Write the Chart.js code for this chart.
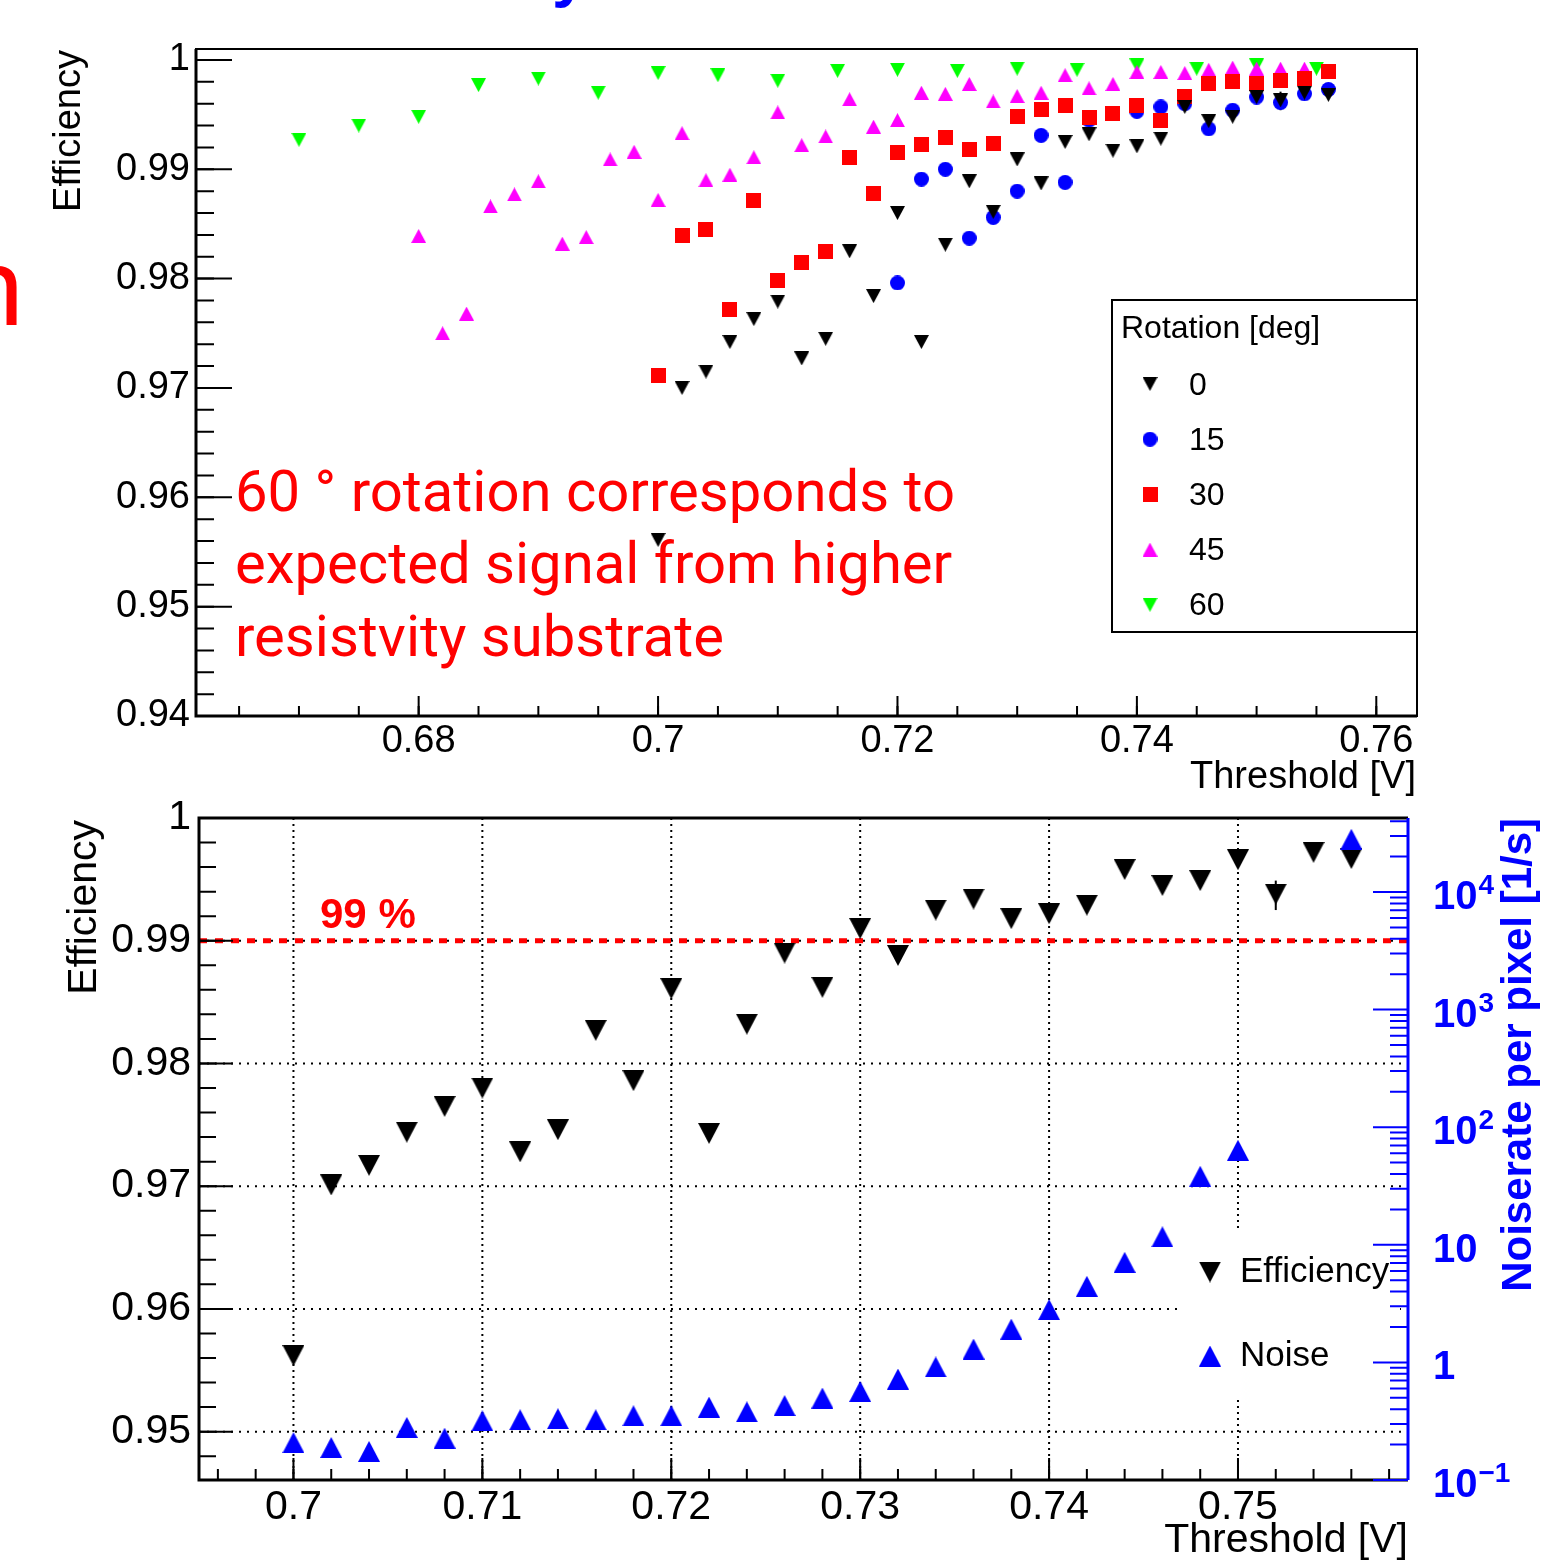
<!DOCTYPE html>
<html>
<head>
<meta charset="utf-8">
<title>Efficiency vs threshold</title>
<script src="https://cdn.jsdelivr.net/npm/chart.js@4.4.0/dist/chart.umd.min.js"></script>
<style>
  html, body { margin: 0; padding: 0; background: #fff; }
  body { width: 1542px; height: 1567px; position: relative; overflow: hidden; }
  canvas { position: absolute; left: 0; top: 0; }
</style>
</head>
<body>
<canvas id="topChart" width="1542" height="1567"></canvas>
<canvas id="bottomChart" width="1542" height="1567"></canvas>
<script>
// ---- data ----
// upper plot: efficiency vs threshold for each rotation angle
const thr0 = [0.700, 0.702, 0.704, 0.706, 0.708, 0.710, 0.712, 0.714, 0.716, 0.718, 0.720, 0.722, 0.724, 0.726, 0.728,
              0.730, 0.732, 0.734, 0.736, 0.738, 0.740, 0.742, 0.744, 0.746, 0.748, 0.750, 0.752, 0.754, 0.756];
const eff0 = [0.9561, 0.9700, 0.9715, 0.9742, 0.9763, 0.9779, 0.9727, 0.9745, 0.9825, 0.9784, 0.9860, 0.9742, 0.9831, 0.9889, 0.9861,
              0.9909, 0.9887, 0.9925, 0.9932, 0.9917, 0.9921, 0.9928, 0.9957, 0.9944, 0.9948, 0.9966, 0.9963, 0.9970, 0.9968];

const thr15 = [0.720, 0.722, 0.724, 0.726, 0.728, 0.730, 0.732, 0.734, 0.736, 0.738, 0.740, 0.742, 0.744, 0.746, 0.748,
               0.750, 0.752, 0.754, 0.756];
const eff15 = [0.9796, 0.9891, 0.9900, 0.9837, 0.9856, 0.9880, 0.9931, 0.9888, 0.9945, 0.9951, 0.9953, 0.9957, 0.9960, 0.9937, 0.9954,
               0.9966, 0.9961, 0.9969, 0.9973];

const thr30 = [0.700, 0.702, 0.704, 0.706, 0.708, 0.710, 0.712, 0.714, 0.716, 0.718, 0.720, 0.722, 0.724, 0.726, 0.728,
               0.730, 0.732, 0.734, 0.736, 0.738, 0.740, 0.742, 0.744, 0.746, 0.748, 0.750, 0.752, 0.754, 0.756];
const eff30 = [0.9711, 0.9839, 0.9845, 0.9772, 0.9871, 0.9798, 0.9815, 0.9825, 0.9911, 0.9878, 0.9915, 0.9923, 0.9929, 0.9918, 0.9924,
               0.9948, 0.9955, 0.9958, 0.9947, 0.9951, 0.9958, 0.9945, 0.9967, 0.9978, 0.9980, 0.9978, 0.9981, 0.9983, 0.9989];

const thr45 = [0.680, 0.682, 0.684, 0.686, 0.688, 0.690, 0.692, 0.694, 0.696, 0.698, 0.700, 0.702, 0.704, 0.706, 0.708,
               0.710, 0.712, 0.714, 0.716, 0.718, 0.720, 0.722, 0.724, 0.726, 0.728, 0.730, 0.732, 0.734, 0.736, 0.738,
               0.740, 0.742, 0.744, 0.746, 0.748, 0.750, 0.752, 0.754];
const eff45 = [0.9839, 0.9750, 0.9768, 0.9866, 0.9877, 0.9889, 0.9832, 0.9838, 0.9909, 0.9916, 0.9872, 0.9933, 0.9890, 0.9895, 0.9911,
               0.9952, 0.9922, 0.9930, 0.9964, 0.9939, 0.9945, 0.9970, 0.9969, 0.9978, 0.9962, 0.9967, 0.9970, 0.9986, 0.9974, 0.9978,
               0.9989, 0.9989, 0.9988, 0.9991, 0.9993, 0.9992, 0.9992, 0.9992];

const thr60 = [0.670, 0.675, 0.680, 0.685, 0.690, 0.695, 0.700, 0.705, 0.710, 0.715, 0.720, 0.725, 0.730, 0.735, 0.740,
               0.745, 0.750, 0.755];
const eff60 = [0.9927, 0.9940, 0.9948, 0.9977, 0.9983, 0.9970, 0.9988, 0.9986, 0.9981, 0.9990, 0.9991, 0.9990, 0.9992, 0.9991, 0.9995,
               0.9992, 0.9995, 0.9992];

// the one visible error bar (0 deg, 0.752 V) in each plot
const errThr = 0.752;
const errTop = [0.9954, 0.9971];
const errLow = [0.9925, 0.9949];

// lower plot: efficiency (0 deg) and noise rate
const thrEff = [0.700, 0.702, 0.704, 0.706, 0.708, 0.710, 0.712, 0.714, 0.716, 0.718, 0.720, 0.722, 0.724, 0.726, 0.728,
                0.730, 0.732, 0.734, 0.736, 0.738, 0.740, 0.742, 0.744, 0.746, 0.748, 0.750, 0.752, 0.754, 0.756];
const effLow = [0.9562, 0.9701, 0.9717, 0.9744, 0.9765, 0.9780, 0.9728, 0.9746, 0.9827, 0.9786, 0.9861, 0.9743, 0.9832, 0.9890, 0.9862,
                0.9910, 0.9888, 0.9925, 0.9934, 0.9918, 0.9922, 0.9929, 0.9958, 0.9945, 0.9949, 0.9966, 0.9938, 0.9972, 0.9967];

const thrNoise = [0.700, 0.702, 0.704, 0.706, 0.708, 0.710, 0.712, 0.714, 0.716, 0.718, 0.720, 0.722, 0.724, 0.726, 0.728,
                  0.730, 0.732, 0.734, 0.736, 0.738, 0.740, 0.742, 0.744, 0.746, 0.748, 0.750, 0.756];
const noise = [0.208, 0.189, 0.175, 0.280, 0.227, 0.319, 0.325, 0.332, 0.325, 0.352, 0.352, 0.417, 0.380, 0.430, 0.498,
               0.567, 0.722, 0.914, 1.30, 1.92, 2.81, 4.44, 7.10, 11.7, 38.3, 63.7, 28100];

const effTarget = 0.99;

// axis ticks
const topXTicks = [0.68, 0.70, 0.72, 0.74, 0.76];
const topYTicks = [0.94, 0.95, 0.96, 0.97, 0.98, 0.99, 1.00];
const botXTicks = [0.70, 0.71, 0.72, 0.73, 0.74, 0.75];
const botYTicks = [0.95, 0.96, 0.97, 0.98, 0.99, 1.00];
const noiseTicks = [0.1, 1, 10, 100, 1000, 10000];
const noiseTickBase = ['10', '1', '10', '10', '10', '10'];
const noiseTickExp = ['\u22121', '', '', '2', '3', '4'];

const noteLines = ['60 \u00b0 rotation corresponds to', 'expected signal from higher', 'resistvity substrate'];

// ---- helpers ----
const sans = '"Liberation Sans", Arial, Helvetica, sans-serif';
const fmt = v => String(Number(v.toFixed(4)));
const pts = (xs, ys) => xs.map((x, i) => ({ x: x, y: ys[i] }));

function steps(a, b, d) {
  const out = [];
  for (let i = Math.round(a / d); i <= Math.round(b / d); i++) out.push(+(i * d).toFixed(4));
  return out;
}

// ROOT-like markers, centred on their bounding box
function marker(shape, color, w, h) {
  const c = document.createElement('canvas');
  c.width = w; c.height = h;
  const g = c.getContext('2d');
  g.fillStyle = color;
  g.beginPath();
  if (shape === 'down') { g.moveTo(0, 0); g.lineTo(w, 0); g.lineTo(w / 2, h); }
  else if (shape === 'up') { g.moveTo(0, h); g.lineTo(w, h); g.lineTo(w / 2, 0); }
  else if (shape === 'square') { g.rect(0, 0, w, h); }
  else { g.arc(w / 2, h / 2, w / 2, 0, Math.PI * 2); }
  g.closePath();
  g.fill();
  return c;
}

function tickSet(ctx, scale, vals, horiz, base, len) {
  ctx.beginPath();
  vals.forEach(v => {
    const p = scale.getPixelForValue(v);
    if (horiz) { ctx.moveTo(p, base); ctx.lineTo(p, base - len); }
    else { ctx.moveTo(base, p); ctx.lineTo(base + len, p); }
  });
  ctx.stroke();
}

function vText(ctx, txt, x, y, font, color) {
  ctx.save();
  ctx.translate(x, y);
  ctx.rotate(-Math.PI / 2);
  ctx.font = font;
  ctx.fillStyle = color;
  ctx.textAlign = 'right';
  ctx.textBaseline = 'alphabetic';
  ctx.fillText(txt, 0, 0);
  ctx.restore();
}

function fixedTicks(vals) {
  return s => { s.ticks = vals.map(v => ({ value: v })); };
}

function errBar(lohi) {
  return { type: 'line', data: [{ x: errThr, y: lohi[0] }, { x: errThr, y: lohi[1] }],
           borderColor: '#000', borderWidth: 2, pointRadius: 0, fill: false, order: 9 };
}

// ---- upper chart ----
const topDecor = {
  id: 'topDecor',
  beforeDatasetsDraw(chart) {
    const ctx = chart.ctx;
    ctx.save();
    ctx.fillStyle = '#ff0000';
    ctx.font = '58px Roboto';
    ctx.textAlign = 'left';
    ctx.textBaseline = 'alphabetic';
    noteLines.forEach((t, i) => ctx.fillText(t, 235, 511 + i * 72.3));
    // pieces of the slide text around the figure
    ctx.font = '110px Roboto';
    ctx.textAlign = 'right';
    ctx.fillText('n', 24, 325);
    ctx.fillStyle = '#0000ff';
    ctx.font = 'bold 64px ' + sans;
    ctx.textAlign = 'left';
    ctx.fillText('y', 552, -5);
    ctx.restore();
  },
  afterDatasetsDraw(chart) {
    const ctx = chart.ctx, ca = chart.chartArea;
    const xs = chart.scales.x, ys = chart.scales.y;
    ctx.save();
    ctx.strokeStyle = '#000';
    ctx.lineWidth = 2;
    ctx.strokeRect(ca.left, ca.top, ca.right - ca.left, ca.bottom - ca.top);
    tickSet(ctx, ys, steps(0.94, 1.0, 0.002), false, ca.left, 18);
    tickSet(ctx, ys, topYTicks, false, ca.left, 36);
    tickSet(ctx, xs, steps(0.665, 0.76, 0.005), true, ca.bottom, 10);
    tickSet(ctx, xs, topXTicks, true, ca.bottom, 20);
    ctx.lineWidth = 3;
    ctx.beginPath();
    ctx.moveTo(ca.left, ca.top); ctx.lineTo(ca.left, ca.bottom); ctx.lineTo(ca.right, ca.bottom);
    ctx.stroke();

    // legend box
    ctx.fillStyle = '#fff';
    ctx.fillRect(1112, 300, 1417 - 1112, 632 - 300);
    ctx.lineWidth = 2;
    ctx.strokeRect(1112, 300, 1417 - 1112, 632 - 300);
    ctx.fillStyle = '#000';
    ctx.textAlign = 'left';
    ctx.textBaseline = 'alphabetic';
    ctx.font = '32px ' + sans;
    ctx.fillText('Rotation [deg]', 1121, 338);
    chart.data.datasets.filter(ds => ds.pointStyle).forEach((ds, i) => {
      const cy = 384 + i * 55.2;
      const img = ds.pointStyle;
      ctx.drawImage(img, 1150 - img.width / 2, cy - img.height / 2);
      ctx.fillStyle = '#000';
      ctx.fillText(ds.label, 1189, cy + 10.5);
    });

    // axis titles
    vText(ctx, 'Efficiency', 80, 50, '38px ' + sans, '#000');
    ctx.font = '38px ' + sans;
    ctx.textAlign = 'right';
    ctx.fillText('Threshold [V]', 1416, 788);
    ctx.restore();
  }
};

const mTop = {
  d0: marker('down', '#000000', 15, 14),
  c15: marker('circle', '#0000ff', 15, 15),
  s30: marker('square', '#ff0000', 15, 15),
  u45: marker('up', '#ff00ff', 15, 14),
  d60: marker('down', '#00ff00', 15, 14)
};

new Chart(document.getElementById('topChart'), {
  type: 'scatter',
  data: {
    datasets: [
      { label: '0', data: pts(thr0, eff0), pointStyle: mTop.d0, pointRadius: 8, order: 1 },
      { label: '15', data: pts(thr15, eff15), pointStyle: mTop.c15, pointRadius: 8, order: 3 },
      { label: '30', data: pts(thr30, eff30), pointStyle: mTop.s30, pointRadius: 8, order: 2 },
      { label: '45', data: pts(thr45, eff45), pointStyle: mTop.u45, pointRadius: 8, order: 4 },
      { label: '60', data: pts(thr60, eff60), pointStyle: mTop.d60, pointRadius: 8, order: 5 },
      errBar(errTop)
    ]
  },
  options: {
    responsive: false,
    animation: false,
    events: [],
    layout: { padding: { left: 0, top: 49, right: 125, bottom: 771 } },
    plugins: { legend: { display: false }, tooltip: { enabled: false } },
    scales: {
      x: {
        type: 'linear', position: 'bottom', min: 0.6614, max: 0.7634,
        afterFit: s => { s.height = 80; },
        afterBuildTicks: fixedTicks(topXTicks),
        grid: { display: false, drawTicks: false },
        border: { display: false },
        ticks: { callback: fmt, color: '#000', font: { family: sans, size: 38 }, padding: 3, maxRotation: 0, autoSkip: false }
      },
      y: {
        type: 'linear', position: 'left', min: 0.94, max: 1.001,
        afterFit: s => { s.width = 196; },
        afterBuildTicks: fixedTicks(topYTicks),
        grid: { display: false, drawTicks: false },
        border: { display: false },
        ticks: { callback: fmt, color: '#000', font: { family: sans, size: 38 }, padding: 6, autoSkip: false }
      }
    }
  },
  plugins: [topDecor]
});

// ---- lower chart ----
const botDecor = {
  id: 'botDecor',
  beforeDatasetsDraw(chart) {
    const ctx = chart.ctx, ca = chart.chartArea;
    const xs = chart.scales.x, ys = chart.scales.y;
    ctx.save();
    ctx.strokeStyle = '#000';
    ctx.lineWidth = 2;
    ctx.setLineDash([2, 4]);
    ctx.beginPath();
    botXTicks.forEach(v => {
      const p = xs.getPixelForValue(v);
      ctx.moveTo(p, ca.top); ctx.lineTo(p, ca.bottom);
    });
    ctx.stroke();
    ctx.setLineDash([2, 6]);
    ctx.beginPath();
    botYTicks.slice(0, 5).forEach(v => {
      const p = ys.getPixelForValue(v);
      ctx.moveTo(ca.left, p); ctx.lineTo(ca.right, p);
    });
    ctx.stroke();
    ctx.setLineDash([]);
    // legend background hides the grid
    ctx.fillStyle = '#fff';
    ctx.fillRect(1178, 1228, 222, 169);
    // 99 % label
    ctx.fillStyle = '#ff0000';
    ctx.font = 'bold 42px ' + sans;
    ctx.textAlign = 'left';
    ctx.textBaseline = 'alphabetic';
    ctx.fillText('99 %', 320, 928);
    ctx.restore();
  },
  afterDatasetsDraw(chart) {
    const ctx = chart.ctx, ca = chart.chartArea;
    const xs = chart.scales.x, ys = chart.scales.y, yr = chart.scales.yR;
    ctx.save();
    ctx.strokeStyle = '#000';
    ctx.lineWidth = 2;
    tickSet(ctx, ys, steps(0.948, 1.0, 0.002), false, ca.left, 17);
    tickSet(ctx, ys, botYTicks, false, ca.left, 34);
    tickSet(ctx, xs, steps(0.696, 0.758, 0.002), true, ca.bottom, 11);
    tickSet(ctx, xs, botXTicks, true, ca.bottom, 22);
    ctx.lineWidth = 3;
    ctx.beginPath();
    ctx.moveTo(ca.right, ca.top); ctx.lineTo(ca.left, ca.top); ctx.lineTo(ca.left, ca.bottom); ctx.lineTo(ca.right, ca.bottom);
    ctx.stroke();

    // right log axis in blue
    const minor = [];
    for (let k = -1; k <= 4; k++) for (let m = 2; m <= 9; m++) {
      const v = m * Math.pow(10, k);
      if (v < yr.max) minor.push(v);
    }
    ctx.strokeStyle = '#0000ff';
    ctx.lineWidth = 2;
    tickSet(ctx, yr, minor, false, ca.right, -18);
    tickSet(ctx, yr, noiseTicks, false, ca.right, -35);
    ctx.lineWidth = 3;
    ctx.beginPath();
    ctx.moveTo(ca.right, ca.top); ctx.lineTo(ca.right, ca.bottom);
    ctx.stroke();
    ctx.fillStyle = '#0000ff';
    ctx.textAlign = 'left';
    ctx.textBaseline = 'alphabetic';
    noiseTicks.forEach((v, i) => {
      const p = yr.getPixelForValue(v);
      ctx.font = 'bold 40px ' + sans;
      ctx.fillText(noiseTickBase[i], 1433, p + 17);
      if (noiseTickExp[i]) {
        const w = ctx.measureText(noiseTickBase[i]).width;
        ctx.font = 'bold 28px ' + sans;
        ctx.fillText(noiseTickExp[i], 1433 + w + 1, p + 2);
      }
    });
    vText(ctx, 'Noiserate per pixel [1/s]', 1531, 818, 'bold 42px ' + sans, '#0000ff');

    // legend entries
    ctx.font = '35px ' + sans;
    ctx.fillStyle = '#000';
    [chart.data.datasets[1], chart.data.datasets[2]].forEach((ds, i) => {
      const cy = 1272 + i * 84;
      const img = ds.pointStyle;
      ctx.drawImage(img, 1210 - img.width / 2, cy - img.height / 2);
      ctx.fillStyle = '#000';
      ctx.fillText(ds.label, 1240, cy + 10);
    });

    // axis titles
    vText(ctx, 'Efficiency', 96, 820, '41px ' + sans, '#000');
    ctx.fillStyle = '#000';
    ctx.font = '41px ' + sans;
    ctx.textAlign = 'right';
    ctx.fillText('Threshold [V]', 1408, 1552);
    ctx.restore();
  }
};

const mBot = {
  eff: marker('down', '#000000', 22, 21),
  noise: marker('up', '#0000ff', 22, 21)
};

new Chart(document.getElementById('bottomChart'), {
  type: 'scatter',
  data: {
    datasets: [
      { label: '99 %', type: 'line', data: [{ x: 0.695, y: effTarget }, { x: 0.759, y: effTarget }],
        borderColor: '#ff0000', borderWidth: 5, borderDash: [8, 8], pointRadius: 0, fill: false, order: 3 },
      { label: 'Efficiency', data: pts(thrEff, effLow), pointStyle: mBot.eff, pointRadius: 11, order: 2 },
      { label: 'Noise', data: pts(thrNoise, noise), yAxisID: 'yR', pointStyle: mBot.noise, pointRadius: 11, order: 1 },
      errBar(errLow)
    ]
  },
  options: {
    responsive: false,
    animation: false,
    events: [],
    layout: { padding: { left: 0, top: 818, right: 0, bottom: 27 } },
    plugins: { legend: { display: false }, tooltip: { enabled: false } },
    scales: {
      x: {
        type: 'linear', position: 'bottom', min: 0.695, max: 0.759,
        afterFit: s => { s.height = 60; },
        afterBuildTicks: fixedTicks(botXTicks),
        grid: { display: false, drawTicks: false },
        border: { display: false },
        ticks: { callback: fmt, color: '#000', font: { family: sans, size: 41 }, padding: 3, maxRotation: 0, autoSkip: false }
      },
      y: {
        type: 'linear', position: 'left', min: 0.94606, max: 1.0,
        afterFit: s => { s.width = 199; },
        afterBuildTicks: fixedTicks(botYTicks),
        grid: { display: false, drawTicks: false },
        border: { display: false },
        ticks: { callback: fmt, color: '#000', font: { family: sans, size: 41 }, padding: 8, autoSkip: false }
      },
      yR: {
        type: 'logarithmic', position: 'right', min: 0.1, max: 42600,
        afterFit: s => { s.width = 134; },
        grid: { display: false, drawTicks: false },
        border: { display: false },
        ticks: { display: false }
      }
    }
  },
  plugins: [botDecor]
});
</script>
</body>
</html>
